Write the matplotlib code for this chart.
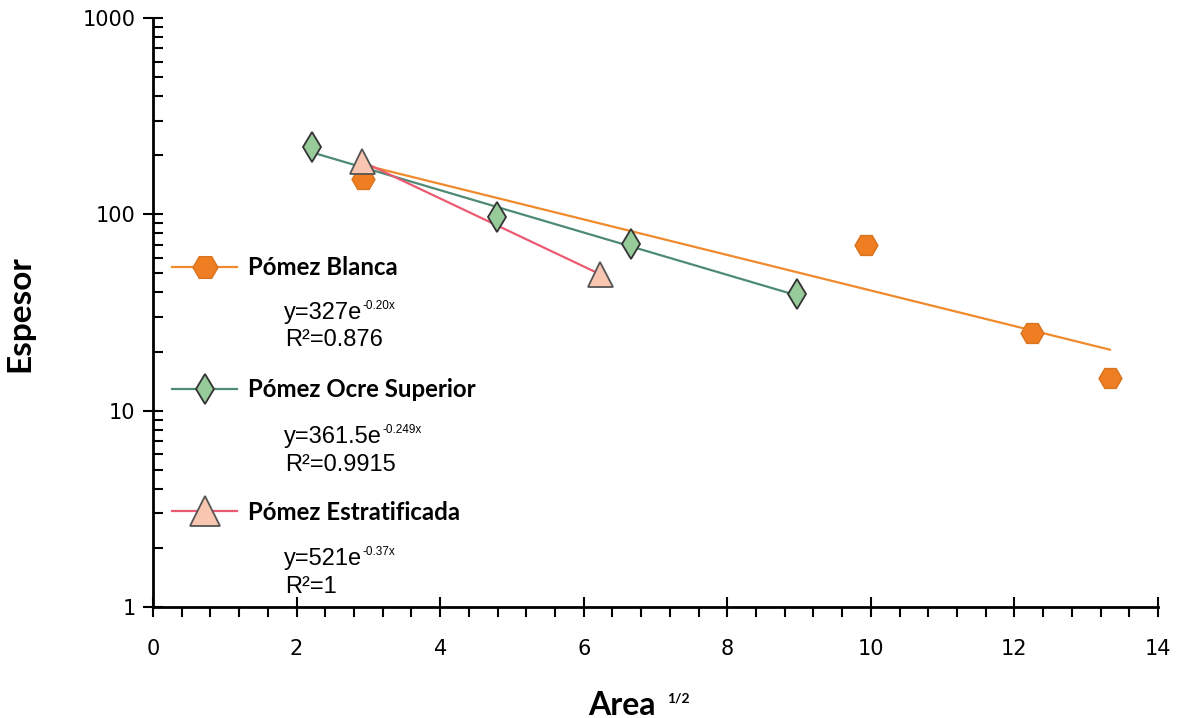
import matplotlib
matplotlib.use("Agg")
import matplotlib.pyplot as plt
import numpy as np
from matplotlib.lines import Line2D
from matplotlib.ticker import LogLocator, MultipleLocator, NullFormatter

# data
blanca_x = [2.93, 9.93, 12.25, 13.33]
blanca_y = [151, 70, 25, 14.7]
ocre_x = [2.21, 4.79, 6.66, 8.97]
ocre_y = [220, 97, 71, 39.5]
estrat_x = [2.91, 6.23]
estrat_y = [186, 49.5]

names = ['Pómez Blanca', 'Pómez Ocre Superior', 'Pómez Estratificada']
eq_main = ['y=327e', 'y=361.5e', 'y=521e']
eq_exp = ['-0.20x', '-0.249x', '-0.37x']
r2_labels = ['R²=0.876', 'R²=0.9915', 'R²=1']

line_colors = ['#f08a2c', '#4e8b73', '#ec5a72']

fig = plt.figure(figsize=(11.79, 7.18), dpi=100)
ax = fig.add_axes([153 / 1179, 111 / 718, 1005 / 1179, 589 / 718])

styles = [
    dict(marker='H', mfc='#ef7d22', mec='#d8741f', mew=1.0),
    dict(marker='d', mfc='#98cb9a', mec='#333333', mew=1.3),
    dict(marker='^', mfc='#f9c6b1', mec='#555555', mew=1.3),
]
plot_sizes = [16.5, 15, 18]
legend_sizes = [18, 15, 22]

handles = []
for xs, ys, color, st, ms, lms in zip([blanca_x, ocre_x, estrat_x], [blanca_y, ocre_y, estrat_y],
                                      line_colors, styles, plot_sizes, legend_sizes):
    # exponential trend line fitted to the points
    b, lna = np.polyfit(xs, np.log(ys), 1)
    xt = np.array([min(xs), max(xs)])
    ax.plot(xt, np.exp(lna + b * xt), color=color, lw=1.6, zorder=2)
    ax.plot(xs, ys, ls='none', ms=ms, zorder=3, **st)
    handles.append(Line2D([], [], color=color, lw=1.6, ms=lms, **st))

ax.set_yscale('log')
ax.set_xlim(0, 14)
ax.set_ylim(1, 1000)

for s in ['top', 'right']:
    ax.spines[s].set_visible(False)
for s in ['left', 'bottom']:
    ax.spines[s].set_linewidth(2.0)

ax.xaxis.set_major_locator(MultipleLocator(2))
ax.xaxis.set_minor_locator(MultipleLocator(0.4))
ax.yaxis.set_minor_locator(LogLocator(base=10, subs=np.arange(2, 10)))
ax.yaxis.set_minor_formatter(NullFormatter())
ax.set_yticks([1, 10, 100, 1000])
ax.set_yticklabels(['1', '10', '100', '1000'])

ax.tick_params(axis='x', which='major', direction='inout', length=14, width=1.5, pad=16, labelsize=15)
ax.tick_params(axis='x', which='minor', direction='out', length=7, width=1.5)
ax.tick_params(axis='y', which='major', direction='inout', length=14, width=1.5, pad=5.5, labelsize=15)
ax.tick_params(axis='y', which='minor', direction='in', length=7, width=1.5)

ax.set_xlabel('Area', fontfamily='Lato', fontweight='bold', fontsize=23, va='baseline')
ax.xaxis.set_label_coords((622 - 153) / 1005, (607 - 715) / 589)
ax.annotate('1/2', xy=(1, 1), xycoords=ax.xaxis.label, xytext=(8, -1),
            textcoords='offset points', fontfamily='Lato', fontweight='bold',
            fontsize=10, va='top', ha='left')
ax.set_ylabel('Espesor', fontfamily='Lato', fontweight='bold', fontsize=24)
ax.yaxis.set_label_coords((34 - 153) / 1005, (607 - 314) / 589)

ax.legend(handles, names, loc='upper left', bbox_to_anchor=(0.019, 0.596),
          frameon=False, borderpad=0, borderaxespad=0, handlelength=2.7,
          handletextpad=0.45, labelspacing=4.14,
          prop=dict(family='Lato', weight='bold', size=17.3))

# fit equations under each legend entry (baselines in pixels)
eq_rows = [(319, 346), (443, 471), (565, 593)]
for (y1, y2), main, ex, r2 in zip(eq_rows, eq_main, eq_exp, r2_labels):
    t = ax.text((284 - 153) / 1005, (607 - y1) / 589, main, transform=ax.transAxes,
                fontfamily='Liberation Sans', fontsize=17, va='baseline', ha='left')
    ax.annotate(ex, xy=(1, 1), xycoords=t, xytext=(0.5, 1.5), textcoords='offset points',
                fontfamily='Liberation Sans', fontsize=8.5, va='top', ha='left')
    ax.text((285 - 153) / 1005, (607 - y2) / 589, r2, transform=ax.transAxes,
            fontfamily='Liberation Sans', fontsize=17, va='baseline', ha='left')

fig.savefig('out.png', dpi=100)
